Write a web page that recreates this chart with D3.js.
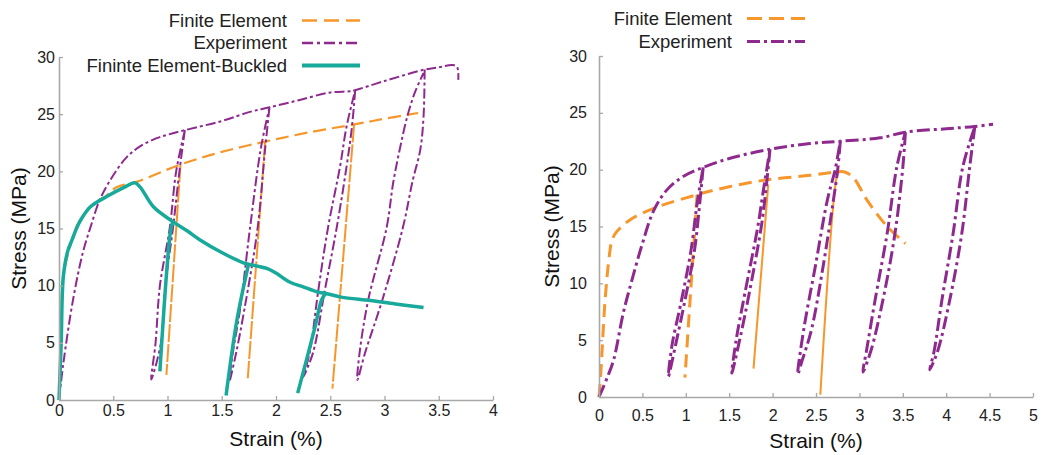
<!DOCTYPE html>
<html>
<head>
<meta charset="utf-8">
<script src="https://cdn.jsdelivr.net/npm/d3@7"></script>
<style>
  body { margin: 0; background: #fff; }
  svg { font-family: "Liberation Sans", Arial, sans-serif; }
</style>
</head>
<body>
<div id="chart"></div>
<script>
// ---- data: [strain %, stress MPa] ----

// left panel
const leftExpEnvelope = [[0,0],[0.04,3.2],[0.13,8.8],[0.22,12.9],[0.29,15.1],[0.38,17.6],[0.49,19.5],[0.62,21.2],[0.75,22.2],[0.9,22.9],[1.0,23.2],[1.16,23.6],[1.5,24.4],[1.76,25.2],[1.94,25.6],[2.2,26.2],[2.5,26.9],[2.68,27.0],[2.73,27.1],[3.0,27.9],[3.37,28.9],[3.5,29.1],[3.63,29.3],[3.67,29.1],[3.68,28.0]]
const leftExpLoop1 = [[1.16,23.6],[1.11,20],[1.05,15],[0.98,10],[0.94,5],[0.85,1.8],[0.89,5],[0.93,10],[1.02,15],[1.08,20],[1.16,23.6]]
const leftExpLoop2 = [[1.94,25.6],[1.9,22],[1.83,15],[1.71,8],[1.63,4],[1.57,1.6],[1.6,4],[1.67,8],[1.76,15],[1.86,22],[1.94,25.6]]
const leftExpLoop3 = [[2.73,27.1],[2.70,23.9],[2.65,20.4],[2.56,15.1],[2.45,9.6],[2.34,4.1],[2.25,2.0],[2.31,4.1],[2.39,9.6],[2.48,15.1],[2.59,20.4],[2.65,23.9],[2.73,27.1]]
const leftExpLoop4 = [[3.37,28.9],[3.36,24.8],[3.33,21.9],[3.26,19.2],[3.17,15.1],[2.98,8.75],[2.82,4.1],[2.75,1.75],[2.77,4.1],[2.85,8.75],[3.02,15.1],[3.08,19.0],[3.14,21.9],[3.21,24.8],[3.28,26.9],[3.36,28.6]]

const leftFeEnvelope = [[0,0],[0.02,5],[0.04,10.8],[0.12,14],[0.17,15.3],[0.29,16.9],[0.44,17.9],[0.53,18.6],[0.72,19.1],[1.12,20.6],[1.5,21.7],[1.9,22.6],[2.3,23.4],[2.72,24.1],[3.0,24.6],[3.31,25.1]]
const leftFeUnload1 = [[1.12,20.6],[0.99,2.2]]
const leftFeUnload2 = [[1.9,22.6],[1.74,1.9]]
const leftFeUnload3 = [[2.72,24.1],[2.52,1.0]]

const leftBuckled = [[0,0],[0.02,5],[0.04,10.8],[0.08,13],[0.12,14],[0.17,15.2],[0.21,15.9],[0.29,16.9],[0.44,17.8],[0.6,18.6],[0.70,19.0],[0.75,18.6],[0.87,16.9],[1.05,15.6],[1.18,14.8],[1.30,14.0],[1.5,12.9],[1.70,12.0],[1.92,11.5],[2.0,11.1],[2.13,10.3],[2.25,9.9],[2.38,9.45],[2.47,9.3],[2.6,9.0],[2.87,8.7],[3.1,8.4],[3.36,8.1]]
const leftBuckledUnload1 = [[1.05,15.6],[1.03,14.9],[0.93,2.5]]
const leftBuckledUnload2 = [[1.75,12],[1.64,7],[1.54,0.4]]
const leftBuckledUnload3 = [[2.46,9.35],[2.42,8.75],[2.36,6.4],[2.20,0.6]]

// right panel
const rightExpEnvelope = [[0,0],[0.1,1.8],[0.17,3.3],[0.28,7.4],[0.38,10.3],[0.5,13.5],[0.63,16.4],[0.78,18.2],[0.97,19.4],[1.2,20.2],[1.51,21.0],[1.97,21.8],[2.43,22.3],[2.78,22.5],[3.24,22.8],[3.53,23.3],[4.0,23.6],[4.33,23.8],[4.54,24.0]]
const rightExpLoop1 = [[1.2,20.2],[1.16,17],[1.1,12.9],[0.99,8.5],[0.88,4.5],[0.80,1.8],[0.84,4.5],[0.95,8.5],[1.06,12.9],[1.13,17],[1.2,20.2]]
const rightExpLoop2 = [[1.97,21.8],[1.92,18],[1.87,15],[1.73,9.1],[1.62,5],[1.53,2.1],[1.58,5],[1.68,9.1],[1.83,15],[1.89,18],[1.97,21.8]]
const rightExpLoop3 = [[2.78,22.5],[2.75,20],[2.70,17.3],[2.58,11.4],[2.45,6],[2.34,3.2],[2.29,2.0],[2.36,6],[2.49,11.4],[2.63,17.3],[2.72,20],[2.78,22.5]]
const rightExpLoop4 = [[3.53,23.3],[3.50,20.2],[3.41,14.4],[3.27,8.5],[3.13,4],[3.04,2.2],[3.08,4],[3.18,8.5],[3.32,14.4],[3.43,20.2],[3.53,23.3]]
const rightExpLoop5 = [[4.33,23.8],[4.27,20.2],[4.18,14.4],[4.04,8.5],[3.9,4],[3.81,2.4],[3.86,4],[3.95,8.5],[4.08,14.4],[4.19,20.2],[4.33,23.8]]

const rightFeEnvelope = [[0,0],[0.02,2],[0.07,8.5],[0.12,12.5],[0.15,13.8],[0.2,14.5],[0.36,15.6],[0.63,16.6],[1.13,17.8],[1.5,18.5],[1.93,19.1],[2.43,19.5],[2.74,19.8],[2.83,19.8],[2.93,19.3],[3.09,17.3],[3.32,15.0],[3.53,13.5]]
const rightFeUnload1 = [[1.13,17.8],[0.99,1.7]]
const rightFeUnload2 = [[1.95,18.7],[1.78,2.5]]
const rightFeUnload3 = [[2.76,19.7],[2.74,19.4],[2.55,0.2]]

// ticks
const leftXTicks = [0, 0.5, 1, 1.5, 2, 2.5, 3, 3.5, 4]
const rightXTicks = [0, 0.5, 1, 1.5, 2, 2.5, 3, 3.5, 4, 4.5, 5]
const yTicks = [0, 5, 10, 15, 20, 25, 30]

// legend labels
const leftLegend = ["Finite Element", "Experiment", "Fininte Element-Buckled"]
const rightLegend = ["Finite Element", "Experiment"]

// ---- styles ----
const orange = "#f7962a"
const purple = "#8e2a8e"
const teal = "#17a99a"
const axisGrey = "#a8a8a8"

const svg = d3.select("#chart").append("svg")
    .attr("width", 1045)
    .attr("height", 455)

function panel(opt) {
  const x = d3.scaleLinear().domain(opt.xDomain).range(opt.xRange)
  const y = d3.scaleLinear().domain([0, 30]).range([opt.y0, opt.y30])
  const g = svg.append("g")

  const line = d3.line().x(d => x(d[0])).y(d => y(d[1])).curve(d3.curveCatmullRom.alpha(0.5))

  // series
  opt.series.forEach(s => {
    g.append("path")
      .datum(s.data)
      .attr("fill", "none")
      .attr("stroke", s.color)
      .attr("stroke-width", s.width)
      .attr("stroke-dasharray", s.dash || null)
      .attr("stroke-linejoin", "round")
      .attr("d", line)
  })

  // y axis
  const yAxis = g.append("g")
    .attr("transform", `translate(${opt.xRange[0]},0)`)
    .call(d3.axisLeft(y).tickValues(yTicks).tickSize(-4).tickSizeOuter(0).tickPadding(opt.yPad))
  // x axis
  const xAxis = g.append("g")
    .attr("transform", `translate(0,${opt.y0})`)
    .call(d3.axisBottom(x).tickValues(opt.xTicks).tickFormat(d => d).tickSize(-4).tickSizeOuter(0).tickPadding(opt.xPad))

  ;[yAxis, xAxis].forEach(a => {
    a.select(".domain").attr("stroke", axisGrey).attr("stroke-width", 1.6)
    a.selectAll(".tick line").attr("stroke", axisGrey).attr("stroke-width", 1.3)
    a.selectAll(".tick text").attr("fill", "#222").style("font-size", "16px")
  })

  // axis titles
  g.append("text")
    .attr("x", (opt.xRange[0] + opt.xRange[1]) / 2)
    .attr("y", opt.xTitleY)
    .attr("text-anchor", "middle")
    .style("font-size", "21px")
    .attr("fill", "#111")
    .text("Strain (%)")
  g.append("text")
    .attr("transform", `translate(${opt.yTitleX},${(opt.y0 + opt.y30) / 2}) rotate(-90)`)
    .attr("text-anchor", "middle")
    .attr("dy", "0.35em")
    .style("font-size", "21px")
    .attr("fill", "#111")
    .text("Stress (MPa)")

  // legend
  const lg = g.append("g")
  opt.legend.forEach((item, i) => {
    const cy = opt.legendY + i * opt.legendStep
    lg.append("text")
      .attr("x", opt.legendTextX)
      .attr("y", cy)
      .attr("dy", "0.35em")
      .attr("text-anchor", "end")
      .style("font-size", "18.5px")
      .attr("fill", "#222")
      .text(item.label)
    lg.append("line")
      .attr("x1", opt.legendLine[0]).attr("x2", opt.legendLine[1])
      .attr("y1", cy).attr("y2", cy)
      .attr("stroke", item.color)
      .attr("stroke-width", item.width)
      .attr("stroke-dasharray", item.dash || null)
  })
}

// left panel
const lDashFe = "13,6"
const lDashExp = "10,3,3,3"
panel({
  xDomain: [0, 4], xRange: [59, 493], y0: 400, y30: 57,
  xTicks: leftXTicks, yPad: 4, xPad: 5,
  xTitleY: 446, yTitleX: 19,
  series: [
    { data: leftFeEnvelope, color: orange, width: 2.2, dash: lDashFe },
    { data: leftFeUnload1, color: orange, width: 2, dash: "18,2" },
    { data: leftFeUnload2, color: orange, width: 2, dash: "18,2" },
    { data: leftFeUnload3, color: orange, width: 2, dash: "18,2" },
    { data: leftExpEnvelope, color: purple, width: 2, dash: lDashExp },
    { data: leftExpLoop1, color: purple, width: 2, dash: lDashExp },
    { data: leftExpLoop2, color: purple, width: 2, dash: lDashExp },
    { data: leftExpLoop3, color: purple, width: 2, dash: lDashExp },
    { data: leftExpLoop4, color: purple, width: 2, dash: lDashExp },
    { data: leftBuckled, color: teal, width: 3.5 },
    { data: leftBuckledUnload1, color: teal, width: 3.5 },
    { data: leftBuckledUnload2, color: teal, width: 3.5 },
    { data: leftBuckledUnload3, color: teal, width: 3.5 }
  ],
  legend: [
    { label: leftLegend[0], color: orange, width: 2.5, dash: "15,7" },
    { label: leftLegend[1], color: purple, width: 2.5, dash: "11,4,3,4" },
    { label: leftLegend[2], color: teal, width: 4 }
  ],
  legendY: 20.5, legendStep: 22.5, legendTextX: 287, legendLine: [302, 360]
})

// right panel
const rDashFe = "13,7"
const rDashExp = "13,4,3,4"
panel({
  xDomain: [0, 5], xRange: [599, 1033], y0: 397, y30: 56,
  xTicks: rightXTicks, yPad: 12, xPad: 13,
  xTitleY: 448, yTitleX: 552,
  series: [
    { data: rightFeEnvelope, color: orange, width: 3, dash: rDashFe },
    { data: rightFeUnload1, color: orange, width: 3, dash: rDashFe },
    { data: rightFeUnload2, color: orange, width: 2 },
    { data: rightFeUnload3, color: orange, width: 2 },
    { data: rightExpEnvelope, color: purple, width: 3, dash: rDashExp },
    { data: rightExpLoop1, color: purple, width: 3, dash: rDashExp },
    { data: rightExpLoop2, color: purple, width: 3, dash: rDashExp },
    { data: rightExpLoop3, color: purple, width: 3, dash: rDashExp },
    { data: rightExpLoop4, color: purple, width: 3, dash: rDashExp },
    { data: rightExpLoop5, color: purple, width: 3, dash: rDashExp }
  ],
  legend: [
    { label: rightLegend[0], color: orange, width: 3, dash: "15,7" },
    { label: rightLegend[1], color: purple, width: 3, dash: "13,4,3,4" }
  ],
  legendY: 18.5, legendStep: 23, legendTextX: 732, legendLine: [747, 805]
})
</script>
</body>
</html>
